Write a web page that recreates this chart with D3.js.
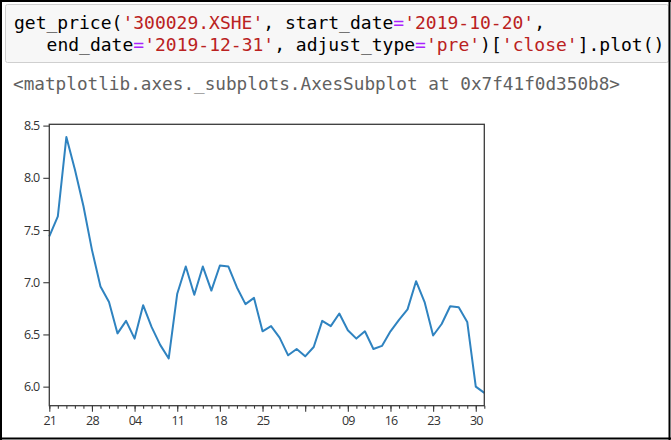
<!DOCTYPE html>
<html>
<head>
<meta charset="utf-8">
<script src="https://cdn.jsdelivr.net/npm/d3@7"></script>
<style>
  html, body { margin: 0; padding: 0; background: #fff; }
  svg { display: block; }
</style>
</head>
<body>
<script>
// ---- data ----
const dates = [
  "2019-10-21","2019-10-22","2019-10-23","2019-10-24","2019-10-25",
  "2019-10-28","2019-10-29","2019-10-30","2019-10-31","2019-11-01",
  "2019-11-04","2019-11-05","2019-11-06","2019-11-07","2019-11-08",
  "2019-11-11","2019-11-12","2019-11-13","2019-11-14","2019-11-15",
  "2019-11-18","2019-11-19","2019-11-20","2019-11-21","2019-11-22",
  "2019-11-25","2019-11-26","2019-11-27","2019-11-28","2019-11-29",
  "2019-12-02","2019-12-03","2019-12-04","2019-12-05","2019-12-06",
  "2019-12-09","2019-12-10","2019-12-11","2019-12-12","2019-12-13",
  "2019-12-16","2019-12-17","2019-12-18","2019-12-19","2019-12-20",
  "2019-12-23","2019-12-24","2019-12-25","2019-12-26","2019-12-27",
  "2019-12-30","2019-12-31"
];
const closePrices = [
  7.44, 7.63, 8.39, 8.08, 7.73,
  7.31, 6.96, 6.81, 6.51, 6.63,
  6.46, 6.78, 6.57, 6.40, 6.27,
  6.89, 7.15, 6.88, 7.15, 6.92,
  7.16, 7.15, 6.95, 6.79, 6.85,
  6.53, 6.58, 6.47, 6.30, 6.36,
  6.29, 6.38, 6.63, 6.58, 6.70,
  6.54, 6.46, 6.53, 6.36, 6.39,
  6.53, 6.64, 6.74, 7.01, 6.81,
  6.49, 6.60, 6.77, 6.76, 6.62,
  6.00, 5.94
];
const majorTickDates = ["2019-10-21","2019-10-28","2019-11-04","2019-11-11","2019-11-18",
  "2019-11-25","2019-12-02","2019-12-09","2019-12-16","2019-12-23","2019-12-30"];
const majorTickLabels = ["21","28","04","11","18","25","","09","16","23","30"];
const yTickValues = [6.0, 6.5, 7.0, 7.5, 8.0, 8.5];

const codeLine1 = [
  ["get_price(", "#000"], ["'300029.XSHE'", "#BA2121"], [", start_date", "#000"],
  ["=", "#AA22FF"], ["'2019-10-20'", "#BA2121"], [",", "#000"]
];
const codeLine2 = [
  ["end_date", "#000"], ["=", "#AA22FF"], ["'2019-12-31'", "#BA2121"], [", adjust_type", "#000"],
  ["=", "#AA22FF"], ["'pre'", "#BA2121"], [")[", "#000"], ["'close'", "#BA2121"], ["].plot()", "#000"]
];
const outputText = "<matplotlib.axes._subplots.AxesSubplot at 0x7f41f0d350b8>";

// ---- drawing ----
(function () {
const W = 671, H = 440;
const svg = d3.select("body").append("svg").attr("width", W).attr("height", H);
svg.append("rect").attr("width", W).attr("height", H).attr("fill", "#fff");

// code cell
svg.append("rect").attr("x", 5.5).attr("y", 4.5).attr("width", 663).attr("height", 58)
  .attr("rx", 2).attr("fill", "#f7f7f7").attr("stroke", "#cfcfcf");

const mono = "'DejaVu Sans Mono', 'Liberation Mono', monospace";
function codeText(parts, x, y) {
  const t = svg.append("text").attr("x", x).attr("y", y)
    .attr("font-family", mono).attr("font-size", 18).attr("xml:space", "preserve");
  parts.forEach(p => t.append("tspan").attr("fill", p[1]).text(p[0]));
}
codeText(codeLine1, 14, 29);
codeText(codeLine2, 46.6, 51);

svg.append("text").attr("x", 13).attr("y", 90)
  .attr("font-family", mono).attr("font-size", 17.7).attr("fill", "#616161")
  .text(outputText);

// chart
const pLeft = 49.3, pRight = 484.3, pTop = 124.3, pBottom = 405.7;
const idx = d3.range(dates.length);
const x = d3.scaleLinear().domain([0, dates.length - 1]).range([pLeft, pRight]);
const ext = d3.extent(closePrices);
const pad = (ext[1] - ext[0]) * 0.05;
const y = d3.scaleLinear().domain([ext[0] - pad, ext[1] + pad]).range([pBottom, pTop]);

const tickFont = "'Open Sans', 'Noto Sans', sans-serif";
const axisColor = "#3a3a3a";

// line
svg.append("path")
  .datum(idx)
  .attr("fill", "none")
  .attr("stroke", "#2f83c0")
  .attr("stroke-width", 2)
  .attr("stroke-linejoin", "round")
  .attr("d", d3.line().x(i => x(i)).y(i => y(closePrices[i])));

// y axis
const yAxis = d3.axisLeft(y).tickValues(yTickValues).tickFormat(d3.format(".1f"))
  .tickSize(6).tickPadding(4);
const gy = svg.append("g").attr("transform", `translate(${pLeft},0)`).call(yAxis);
gy.select(".domain").remove();

// x axis minor ticks
const gxMinor = svg.append("g").attr("transform", `translate(0,${pBottom})`)
  .call(d3.axisBottom(x).tickValues(idx).tickSize(3).tickFormat(""));
gxMinor.select(".domain").remove();

// x axis major ticks
const majorIdx = majorTickDates.map(d => dates.indexOf(d));
const gx = svg.append("g").attr("transform", `translate(0,${pBottom})`)
  .call(d3.axisBottom(x).tickValues(majorIdx).tickSize(6).tickPadding(4)
    .tickFormat((d, i) => majorTickLabels[i]));
gx.select(".domain").remove();

[gy, gx, gxMinor].forEach(g => {
  g.selectAll("line").attr("stroke", axisColor).attr("stroke-width", 1.1);
  g.selectAll("text").attr("font-family", tickFont).attr("font-size", 12.5)
    .attr("letter-spacing", "-0.8px").attr("fill", "#333");
});

// spines
svg.append("rect").attr("x", pLeft).attr("y", pTop)
  .attr("width", pRight - pLeft).attr("height", pBottom - pTop)
  .attr("fill", "none").attr("stroke", axisColor).attr("stroke-width", 1.3);

// outer black frame
const frame = [[1, 0, 1, H], [0, 1, W, 1], [669.5, 0, 669.5, H], [0, 438.5, W, 438.5]];
frame.forEach(f => svg.append("line").attr("x1", f[0]).attr("y1", f[1]).attr("x2", f[2]).attr("y2", f[3])
  .attr("stroke", "#000").attr("stroke-width", 2));
})();
</script>
</body>
</html>
